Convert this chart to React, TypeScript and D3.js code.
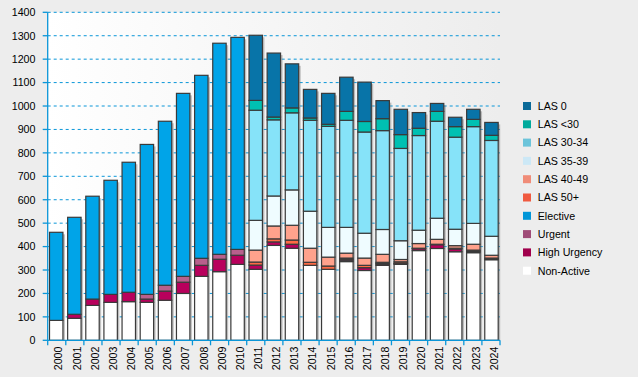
import React from "react";
import * as d3 from "d3";

const years = ["2000","2001","2002","2003","2004","2005","2006","2007","2008","2009","2010","2011","2012","2013","2014","2015","2016","2017","2018","2019","2020","2021","2022","2023","2024"];

const nonActive = [85, 94, 149, 162, 165, 162, 171, 200, 273, 293, 324, 303, 405, 393, 320, 303, 336, 298, 320, 324, 383, 392, 378, 374, 344];
const highUrgency = [0, 17, 27, 34, 40, 14, 39, 48, 47, 53, 39, 18, 15, 17, 0, 0, 6, 12, 5, 4, 8, 16, 12, 5, 4];
const urgent = [0, 0, 0, 0, 0, 20, 25, 25, 30, 21, 25, 0, 0, 0, 0, 0, 4, 0, 3, 1, 2, 2, 3, 3, 1];
const elective = [376, 414, 439, 487, 555, 640, 700, 781, 781, 901, 905, 0, 0, 0, 0, 0, 0, 0, 0, 0, 0, 0, 0, 0, 0];
const las50 = [0, 0, 0, 0, 0, 0, 0, 0, 0, 0, 0, 13, 13, 18, 13, 14, 5, 10, 5, 6, 0, 0, 0, 3, 2];
const las4049 = [0, 0, 0, 0, 0, 0, 0, 0, 0, 0, 0, 51, 55, 63, 60, 38, 21, 31, 34, 10, 20, 21, 11, 25, 12];
const las3539 = [0, 0, 0, 0, 0, 0, 0, 0, 0, 0, 0, 127, 128, 151, 158, 127, 110, 106, 106, 80, 57, 90, 70, 89, 81];
const las3034 = [0, 0, 0, 0, 0, 0, 0, 0, 0, 0, 0, 470, 325, 329, 388, 431, 457, 432, 422, 394, 404, 414, 393, 413, 409];
const lasLt30 = [0, 0, 0, 0, 0, 0, 0, 0, 0, 0, 0, 42, 12, 21, 10, 9, 38, 45, 51, 59, 31, 42, 45, 31, 22];
const las0 = [0, 0, 0, 0, 0, 0, 0, 0, 0, 0, 0, 278, 273, 188, 122, 132, 146, 168, 77, 108, 67, 34, 40, 43, 55];

const yTicks = [0, 100, 200, 300, 400, 500, 600, 700, 800, 900, 1000, 1100, 1200, 1300, 1400];

// stack order bottom -> top
const seriesNames = ["Non-Active", "High Urgency", "Urgent", "Elective", "LAS 50+", "LAS 40-49", "LAS 35-39", "LAS 30-34", "LAS <30", "LAS 0"];
const seriesValues = [nonActive, highUrgency, urgent, elective, las50, las4049, las3539, las3034, lasLt30, las0];
const barColors = ["#ffffff", "#b8005c", "#b8608c", "#00a4e8", "#ff6a44", "#ffa28c", "#effcff", "#86e3f9", "#00c0b2", "#0874a8"];
const legendColors = ["#ffffff", "#a0004c", "#a04c78", "#0096d8", "#f05a40", "#f08c78", "#cce8f6", "#6cc4da", "#00aa9c", "#0b6a98"];

const W = 638, H = 377;
const X0 = 47.7, X1 = 500, Y0 = 340.3, Y1 = 12.3;
const FONT = "'Liberation Sans', Arial, sans-serif";
const FS = 10.7;

export default function App() {
  const x = d3.scaleBand<string>().domain(years).range([X0, X1]).paddingInner(0.26).paddingOuter(0.1);
  const y = d3.scaleLinear().domain([0, 1400]).range([Y0, Y1]);

  const table = years.map((yr, i) => {
    const row: any = { year: yr };
    seriesNames.forEach((n, s) => (row[n] = seriesValues[s][i]));
    return row;
  });
  const stacked = d3.stack<any>().keys(seriesNames)(table);
  const totals = years.map((_, i) => seriesValues.reduce((a, s) => a + s[i], 0));

  const step = (X1 - X0) / years.length;
  const xTicks = d3.range(years.length + 1).map((k) => X0 + k * step);

  const legendOrder = [...seriesNames].reverse();

  return (
    <div style={{ position: "absolute", left: 0, top: 0 }}>
      <svg width={W} height={H} style={{ display: "block" }}>
        <defs>
          <linearGradient id="plotBg" x1="0" x2="1" y1="0" y2="0">
            <stop offset="0" stopColor="#ffffff" />
            <stop offset="1" stopColor="#ededed" />
          </linearGradient>
          <clipPath id="plotClip">
            <rect x={X0} y={0} width={X1 - X0 + 5} height={Y0} />
          </clipPath>
        </defs>
        <rect x={0} y={0} width={W} height={H} fill="#ededed" />
        <rect x={X0} y={Y1} width={X1 - X0} height={Y0 - Y1} fill="url(#plotBg)" />

        {/* gridlines */}
        {yTicks.filter((t) => t > 0).map((t) => (
          <line key={"g" + t} x1={X0} x2={X1} y1={y(t)} y2={y(t)} stroke="#0a96d8" strokeWidth={1} strokeDasharray="3,3" />
        ))}

        {/* shadows */}
        <g clipPath="url(#plotClip)">
          {years.map((yr, i) => (
            <rect key={"s" + yr} x={(x(yr) as number) + 2} y={y(totals[i]) + 2} width={x.bandwidth()} height={Y0 - y(totals[i])} fill="#777" opacity={0.45} />
          ))}
        </g>

        {/* bars */}
        {stacked.map((layer, s) => (
          <g key={"l" + s}>
            {layer.map((d, i) =>
              d[1] - d[0] > 0 ? (
                <rect
                  key={i}
                  x={x(years[i])}
                  y={y(d[1])}
                  width={x.bandwidth()}
                  height={y(d[0]) - y(d[1])}
                  fill={barColors[s]}
                  stroke="#3a3a3a"
                  strokeWidth={1.2}
                />
              ) : null
            )}
          </g>
        ))}

        {/* axes */}
        <line x1={X0} x2={X0} y1={Y1} y2={Y0} stroke="#0a96d8" strokeWidth={1.3} />
        <line x1={X0} x2={X1} y1={Y0} y2={Y0} stroke="#0a96d8" strokeWidth={1.3} />
        {yTicks.map((t) => (
          <g key={"yt" + t}>
            <line x1={X0 - 5} x2={X0} y1={y(t)} y2={y(t)} stroke="#0a96d8" strokeWidth={1.3} />
            <text x={35.5} y={y(t)} dy="0.36em" textAnchor="end" fontFamily={FONT} fontSize={FS} fill="#000">{t}</text>
          </g>
        ))}
        {xTicks.map((tx, k) => (
          <line key={"xt" + k} x1={tx} x2={tx} y1={Y0} y2={Y0 + 5} stroke="#0a96d8" strokeWidth={1.3} />
        ))}
        {years.map((yr) => (
          <text
            key={"xl" + yr}
            transform={`translate(${(x(yr) as number) + x.bandwidth() / 2 + 2.5},346.5) rotate(-90)`}
            dy="0.35em"
            textAnchor="end"
            fontFamily={FONT}
            fontSize={FS}
            fill="#000"
          >
            {yr}
          </text>
        ))}

        {/* legend */}
        {legendOrder.map((n, i) => {
          const s = seriesNames.indexOf(n);
          const cy = 106 + i * 18.3;
          return (
            <g key={"lg" + n}>
              <rect x={523} y={cy - 4} width={8} height={8} fill={legendColors[s]} />
              <text x={537.7} y={cy} dy="0.36em" fontFamily={FONT} fontSize={FS} fill="#000">{n}</text>
            </g>
          );
        })}
      </svg>
    </div>
  );
}
